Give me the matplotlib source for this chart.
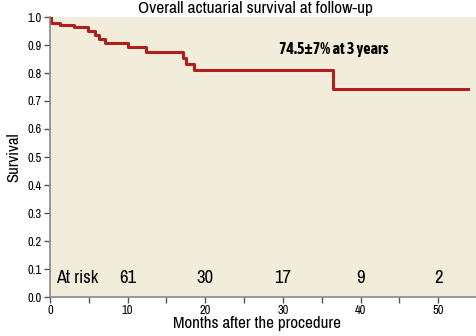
import numpy as np
import matplotlib
matplotlib.use("Agg")
import matplotlib.pyplot as plt

plt.rcParams['font.family'] = ['Archivo Narrow', 'DejaVu Sans']

# Kaplan-Meier style steps
months = [0, 0.1, 1.3, 3.1, 4.9, 5.8, 6.3, 7.1, 10.0, 12.4, 17.1, 17.5, 18.6, 36.4, 53.8]
survival = [1.0, 0.977, 0.970, 0.963, 0.950, 0.935, 0.920, 0.908, 0.892, 0.876,
            0.854, 0.832, 0.811, 0.742, 0.742]

risk_months = [10, 20, 30, 40, 50]
at_risk = ['61', '30', '17', '9', '2']

fig = plt.figure(figsize=(4.77, 3.36), dpi=100)
ax = fig.add_axes([50/477, 39/336, 427/477, 280/336])
ax.set_facecolor('#f2eddb')

ax.step(months, survival, where='post', color='#b01e1e', lw=2.2)

ax.set_xlim(0, 55)
ax.set_ylim(0, 1.0)
ax.set_xticks(np.arange(0, 51, 10))
ax.set_xticks(np.arange(5, 56, 10), minor=True)
ax.set_yticks(np.arange(0, 1.01, 0.1))
ax.set_yticklabels([f"{v:.1f}" for v in np.arange(0, 1.01, 0.1)])
ax.tick_params(axis='both', which='both', direction='out', length=4, width=1,
               color='#555555', labelsize=9, pad=2)

for s in ['top', 'right']:
    ax.spines[s].set_visible(False)
for s in ['left', 'bottom']:
    ax.spines[s].set_color('#888888')
    ax.spines[s].set_linewidth(1.2)

ax.set_title("Overall actuarial survival at follow-up", fontsize=12.5, pad=3, x=0.482)
ax.set_xlabel("Months after the procedure", fontsize=12.3, labelpad=0, x=0.485)
ax.set_ylabel("Survival", fontsize=12, labelpad=4)

ax.text(3.5, 0.05, "At risk", fontsize=13, ha='center', va='baseline')
for m, n in zip(risk_months, at_risk):
    ax.text(m, 0.05, n, fontsize=13.5, ha='center', va='baseline')

ax.text(36.6, 0.885, "74.5±7% at 3 years", fontsize=11.5, fontweight='bold',
        family=['Asap Condensed', 'DejaVu Sans'], ha='center', va='center')

fig.savefig("out.png", dpi=100)
